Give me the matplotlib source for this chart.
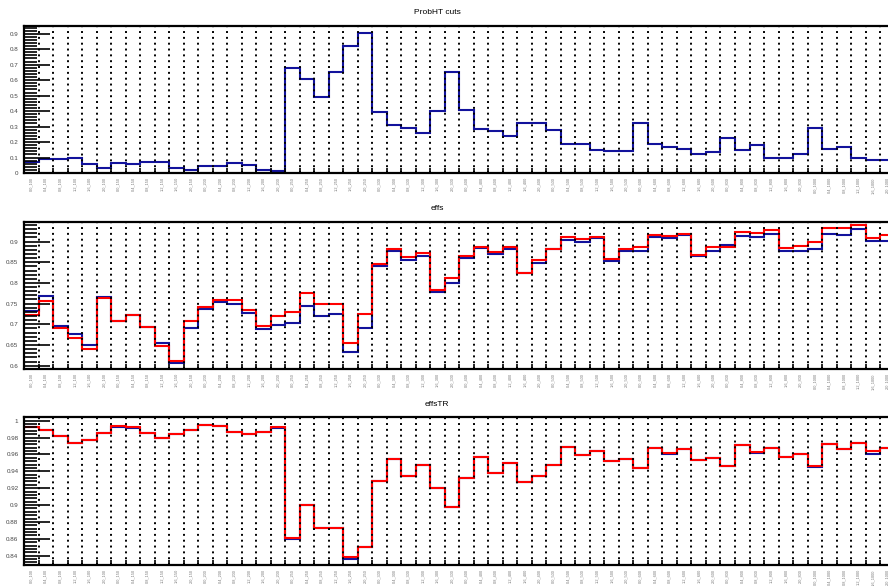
import numpy as np
import matplotlib
matplotlib.use("Agg")
import matplotlib.pyplot as plt
from matplotlib.ticker import MultipleLocator, FormatStrFormatter, FixedLocator

plt.rcParams['font.family'] = ['Liberation Sans', 'DejaVu Sans']

# bin labels: momentum slice x cut slice
p_bins = ["100", "150", "200", "250", "300", "400", "500", "600", "800", "1000"]
cut_bins = ["0.0", "0.4", "0.8", "1.2", "1.6", "2.0"]
bin_labels = [c + "_" + p for p in p_bins for c in cut_bins]

probht_cuts = [0.068, 0.088, 0.090, 0.100, 0.058, 0.031, 0.063, 0.057, 0.073, 0.068,
               0.033, 0.022, 0.048, 0.048, 0.063, 0.054, 0.022, 0.010, 0.678, 0.609,
               0.491, 0.650, 0.820, 0.906, 0.396, 0.310, 0.289, 0.256, 0.400, 0.650,
               0.405, 0.282, 0.273, 0.240, 0.320, 0.320, 0.280, 0.190, 0.185, 0.150,
               0.140, 0.145, 0.320, 0.190, 0.165, 0.155, 0.120, 0.135, 0.225, 0.150,
               0.180, 0.095, 0.095, 0.120, 0.290, 0.155, 0.170, 0.100, 0.085, 0.085]

effs_blue = [0.733, 0.769, 0.695, 0.677, 0.649, 0.766, 0.707, 0.722, 0.693, 0.656,
             0.607, 0.692, 0.736, 0.755, 0.750, 0.727, 0.689, 0.698, 0.702, 0.745,
             0.720, 0.725, 0.633, 0.690, 0.840, 0.877, 0.855, 0.865, 0.777, 0.800,
             0.860, 0.885, 0.870, 0.882, 0.825, 0.848, 0.882, 0.904, 0.899, 0.908,
             0.854, 0.876, 0.876, 0.910, 0.908, 0.916, 0.866, 0.878, 0.891, 0.914,
             0.910, 0.918, 0.876, 0.876, 0.881, 0.918, 0.915, 0.931, 0.902, 0.902]
effs_red = [0.722, 0.757, 0.690, 0.667, 0.641, 0.764, 0.707, 0.722, 0.693, 0.648,
            0.612, 0.708, 0.742, 0.758, 0.759, 0.734, 0.695, 0.719, 0.729, 0.776,
            0.750, 0.750, 0.655, 0.725, 0.845, 0.882, 0.863, 0.872, 0.783, 0.812,
            0.865, 0.888, 0.875, 0.887, 0.825, 0.855, 0.882, 0.911, 0.906, 0.912,
            0.859, 0.882, 0.887, 0.916, 0.913, 0.919, 0.868, 0.887, 0.887, 0.924,
            0.921, 0.929, 0.885, 0.890, 0.899, 0.932, 0.932, 0.939, 0.908, 0.916]

effstr_blue = [0.992, 0.989, 0.982, 0.973, 0.977, 0.986, 0.993, 0.991, 0.985, 0.980,
               0.984, 0.989, 0.995, 0.994, 0.987, 0.984, 0.987, 0.991, 0.860, 0.900,
               0.873, 0.873, 0.836, 0.850, 0.929, 0.955, 0.935, 0.947, 0.920, 0.898,
               0.932, 0.957, 0.938, 0.950, 0.927, 0.935, 0.947, 0.969, 0.959, 0.964,
               0.952, 0.955, 0.944, 0.968, 0.960, 0.967, 0.953, 0.956, 0.946, 0.971,
               0.962, 0.968, 0.957, 0.960, 0.945, 0.972, 0.966, 0.974, 0.961, 0.968]
effstr_red = [0.993, 0.989, 0.982, 0.973, 0.977, 0.986, 0.994, 0.992, 0.985, 0.980,
              0.984, 0.989, 0.995, 0.994, 0.987, 0.984, 0.987, 0.992, 0.861, 0.900,
              0.873, 0.873, 0.838, 0.850, 0.929, 0.955, 0.934, 0.947, 0.920, 0.898,
              0.932, 0.957, 0.938, 0.950, 0.927, 0.935, 0.947, 0.969, 0.959, 0.964,
              0.952, 0.955, 0.944, 0.968, 0.962, 0.967, 0.953, 0.956, 0.946, 0.971,
              0.963, 0.968, 0.957, 0.960, 0.946, 0.972, 0.967, 0.974, 0.964, 0.968]

BLUE = '#12129c'
RED = '#ff0000'

nbins = len(bin_labels)
edges = np.arange(nbins + 1)
centers = edges[:-1] + 0.5

W, H = 888, 586
fig = plt.figure(figsize=(W / 100, H / 100), dpi=100)
fig.patch.set_facecolor('white')

x_left = 24
x_right = 24 + 60 * 14.51
# (top px, bottom px, title, ylim, major, minor)
panels = [
    (26, 173, "ProbHT cuts", (0, 0.9497), 0.1, 0.02),
    (221.7, 369, "effs", (0.592, 0.948), 0.05, 0.01),
    (417, 565, "effsTR", (0.829, 1.0044), 0.02, 0.004),
]

axes = []
for top, bot, title, ylim, major, minor in panels:
    ax = fig.add_axes([x_left / W, 1 - bot / H, (x_right - x_left) / W, (bot - top) / H])
    ax.set_xlim(0, nbins)
    ax.set_ylim(*ylim)
    fig.text(437 / W, 1 - (top - 13) / H, title, ha='center', va='center', fontsize=6)

    for s in ax.spines.values():
        s.set_linewidth(1.6)

    ax.yaxis.set_major_locator(MultipleLocator(major))
    ax.yaxis.set_minor_locator(MultipleLocator(minor))
    ax.yaxis.set_major_formatter(FormatStrFormatter('%g'))
    ax.tick_params(axis='y', which='major', direction='in', length=19, width=1.2,
                   labelsize=4.5, labelcolor='#444444', pad=4)
    ax.tick_params(axis='y', which='minor', direction='in', length=9.5, width=1.2)

    ax.xaxis.set_major_locator(FixedLocator(edges))
    ax.xaxis.set_minor_locator(FixedLocator(centers))
    ax.set_xticklabels([], minor=False)
    ax.set_xticklabels(bin_labels, minor=True, rotation=90, fontsize=2.8, color='#777777',
                       va='top')
    ax.tick_params(axis='x', which='major', direction='in', length=3.5, width=1.2)
    ax.tick_params(axis='x', which='minor', length=0, pad=3)
    ax.grid(axis='x', which='major', color='black', linestyle=(0, (1, 2)), linewidth=1.4)
    axes.append(ax)

axes[0].stairs(probht_cuts, edges, baseline=None, color=BLUE, linewidth=1.5)
axes[1].stairs(effs_blue, edges, baseline=None, color=BLUE, linewidth=1.5)
axes[1].stairs(effs_red, edges, baseline=None, color=RED, linewidth=1.5)
axes[2].stairs(effstr_blue, edges, baseline=None, color=BLUE, linewidth=1.5)
axes[2].stairs(effstr_red, edges, baseline=None, color=RED, linewidth=1.5)

fig.savefig("out.png", dpi=100)
